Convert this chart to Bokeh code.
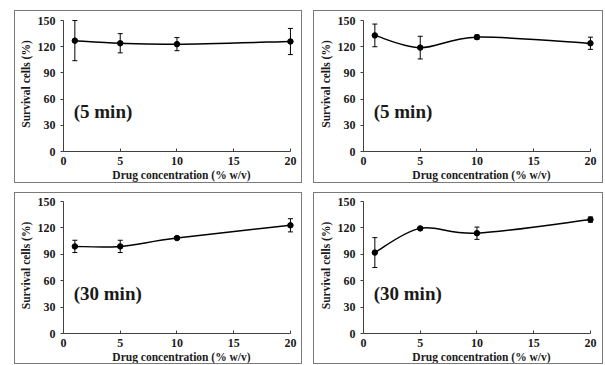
from bokeh.plotting import figure
from bokeh.layouts import row, column
from bokeh.models import Range1d, FixedTicker, ColumnDataSource, Whisker, TeeHead
from bokeh.core.properties import value
from bokeh.embed import file_html
from bokeh.resources import INLINE

conc = [1, 5, 10, 20]
x_ticks = [0, 5, 10, 15, 20]
y_ticks = [0, 30, 60, 90, 120, 150]

tl_y = [127, 124, 123, 126]
tl_err = [23, 11, 7.5, 15]
tr_y = [133, 119, 131, 124]
tr_err = [13, 13, 2.5, 7]
bl_y = [99, 99, 108.5, 123]
bl_err = [7, 7, 1.5, 7.5]
br_y = [92, 119.5, 114, 129.5]
br_err = [17, 1, 7, 3]

labels = ["(5 min)", "(5 min)", "(30 min)", "(30 min)"]
x_label = "Drug concentration (% w/v)"
y_label = "Survival cells (%)"

FONT = "Liberation Serif"
DARK = "#1a1a1a"


def smooth_segments(xs, ys):
    n = len(xs)
    x0, y0, x1, y1, cx0, cy0, cx1, cy1 = [], [], [], [], [], [], [], []
    for i in range(n - 1):
        pm = max(i - 1, 0)
        pp = min(i + 2, n - 1)
        x0.append(xs[i]); y0.append(ys[i])
        x1.append(xs[i + 1]); y1.append(ys[i + 1])
        cx0.append(xs[i] + (xs[i + 1] - xs[pm]) / 6.0)
        cy0.append(ys[i] + (ys[i + 1] - ys[pm]) / 6.0)
        cx1.append(xs[i + 1] - (xs[pp] - xs[i]) / 6.0)
        cy1.append(ys[i + 1] - (ys[pp] - ys[i]) / 6.0)
    return dict(x0=x0, y0=y0, x1=x1, y1=y1, cx0=cx0, cy0=cy0, cx1=cx1, cy1=cy1)


def panel(ys, errs, label, left, right, top, fh, bottom, y_end):
    p = figure(frame_width=234, frame_height=fh, output_backend="svg", toolbar_location=None,
               x_range=Range1d(0, 20.8), y_range=Range1d(0, y_end),
               min_border_left=left, min_border_right=right, min_border_top=top,
               min_border_bottom=bottom)
    p.outline_line_color = None
    p.grid.visible = False
    p.background_fill_color = "white"
    p.border_fill_color = "white"
    p.styles = {"border": "1px solid #7a7a7a"}

    for ax in (p.xaxis, p.yaxis):
        ax.axis_line_color = "#404040"
        ax.major_tick_line_color = "#404040"
        ax.minor_tick_line_color = None
        ax.major_label_text_font = FONT
        ax.major_label_text_font_style = "bold"
        ax.major_label_text_font_size = "12px"
        ax.major_label_text_color = DARK
        ax.axis_label_text_font = FONT
        ax.axis_label_text_font_style = "bold"
        ax.axis_label_text_font_size = "11.5px"
        ax.axis_label_text_color = DARK

    p.xaxis.ticker = FixedTicker(ticks=x_ticks)
    p.xaxis.bounds = (0, 20)
    p.xaxis.major_tick_in = 3
    p.xaxis.major_tick_out = 0
    p.xaxis.major_label_standoff = 5
    p.xaxis.axis_label = x_label
    p.xaxis.axis_label_standoff = 1

    p.yaxis.ticker = FixedTicker(ticks=y_ticks)
    p.yaxis.bounds = (0, 150)
    p.yaxis.major_tick_in = 0
    p.yaxis.major_tick_out = 3
    p.yaxis.major_label_standoff = 5
    p.yaxis.axis_label = y_label
    p.yaxis.axis_label_standoff = 3

    seg = ColumnDataSource(smooth_segments(conc, ys))
    p.bezier(x0="x0", y0="y0", x1="x1", y1="y1", cx0="cx0", cy0="cy0",
             cx1="cx1", cy1="cy1", source=seg, line_color="black", line_width=1.5)

    src = ColumnDataSource(dict(x=conc, y=ys,
                                upper=[a + b for a, b in zip(ys, errs)],
                                lower=[a - b for a, b in zip(ys, errs)]))
    w = Whisker(base="x", upper="upper", lower="lower", source=src,
                line_color="black", line_width=1,
                upper_head=TeeHead(size=5, line_color="black", line_width=1),
                lower_head=TeeHead(size=5, line_color="black", line_width=1))
    p.add_layout(w)
    p.scatter(x="x", y="y", source=src, size=5.5, color="black")

    p.text(x=[0.9], y=[46], text=[label], text_font=value(FONT), text_font_style="bold",
           text_font_size="19px", text_color=DARK, text_baseline="middle", text_align="left")
    return p


p1 = panel(tl_y, tl_err, labels[0], 48, 4, 5, 133, 33, 154.65)
p2 = panel(tr_y, tr_err, labels[1], 49, 5, 5, 133, 33, 154.65)
p3 = panel(bl_y, bl_err, labels[2], 48, 4, 4, 134, 31, 154.6)
p4 = panel(br_y, br_err, labels[3], 49, 5, 4, 134, 31, 154.6)

layout = column(row(p1, p2, spacing=11), row(p3, p4, spacing=11), spacing=9)
layout.margin = (10, 0, 0, 14)
layout.styles = {"background-color": "white"}

open("out.html", "w").write(file_html(layout, INLINE))
